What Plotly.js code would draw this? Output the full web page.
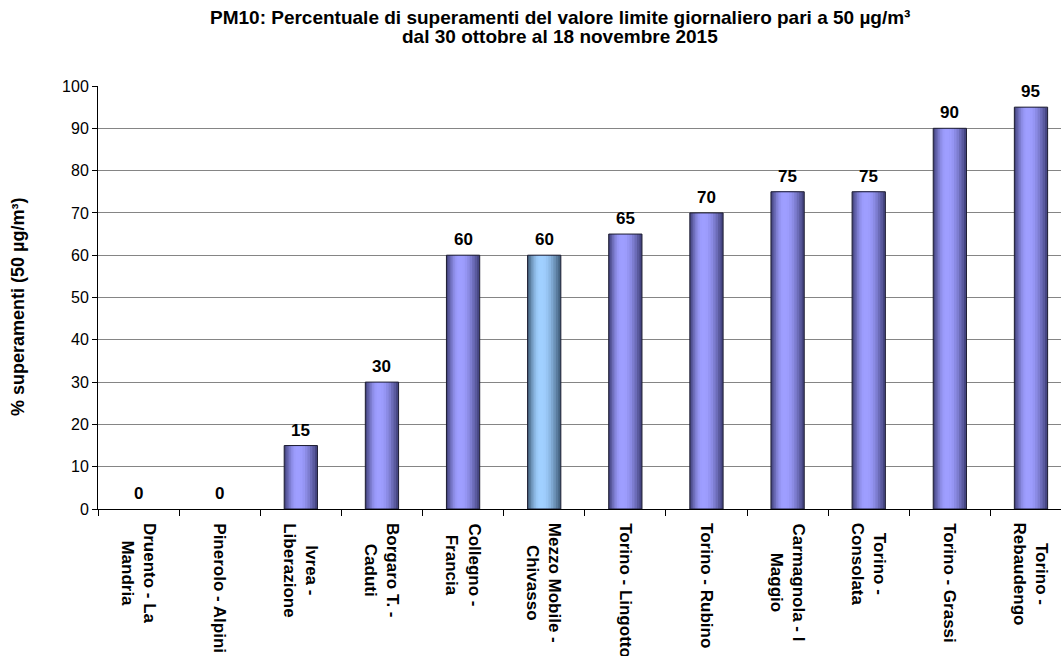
<!DOCTYPE html>
<html>
<head>
<meta charset="utf-8">
<script src="https://cdn.plot.ly/plotly-3.0.1.min.js"></script>
<style>
  html, body { margin: 0; padding: 0; background: #ffffff; overflow: hidden; }
  #chart { width: 1061px; height: 656px; }
</style>
</head>
<body>
<div id="chart"></div>
<script>
// Monitoring stations (x-axis categories); "<br>" splits a label over two lines
const stations = [
  "Druento - La<br>Mandria",
  "Pinerolo - Alpini",
  "Ivrea -<br>Liberazione",
  "Borgaro T. -<br>Caduti",
  "Collegno -<br>Francia",
  "Mezzo Mobile -<br>Chivasso",
  "Torino - Lingotto",
  "Torino - Rubino",
  "Carmagnola - I<br>Maggio",
  "Torino -<br>Consolata",
  "Torino - Grassi",
  "Torino -<br>Rebaudengo"
];

// % of days above the 50 µg/m³ daily limit
const exceedPct = [0, 0, 15, 30, 60, 60, 65, 70, 75, 75, 90, 95];

// Mobile station drawn in a different colour
const mobileStation = "Mezzo Mobile -<br>Chivasso";

const yTicks = [0, 10, 20, 30, 40, 50, 60, 70, 80, 90, 100];

const titleLines = [
  "PM10: Percentuale di superamenti del valore limite giornaliero pari a 50 µg/m³",
  "dal 30 ottobre al 18 novembre 2015"
];
const yTitle = "% superamenti (50 µg/m³)";

// ---- styling ----
const FONT = "Liberation Sans, Arial, sans-serif";
const W = 1061, H = 656;
const M = { l: 98, r: 0, t: 86, b: 147 };
const plotH = H - M.t - M.b;
const plotW = W - M.l - M.r;
// pixel position -> paper fraction
const py = p => (H - M.b - p) / plotH;
const px = p => (p - M.l) / plotW;

const BAR_HALF = 0.205;          // half width of a bar, category units
const PEAK = -0.041;             // where the cylinder highlight sits
const LAYERS = 8;

// edge -> highlight colours for the shaded bars
const shadeMain = { edge: [70, 70, 130], peak: [158, 158, 255] };
const shadeMobile = { edge: [70, 100, 130], peak: [160, 208, 255] };

function mix(a, b, t) {
  return "rgb(" + a.map((v, i) => Math.round(v + (b[i] - v) * t)).join(",") + ")";
}

const traces = [];
for (let k = 0; k < LAYERS; k++) {
  const t = k / (LAYERS - 1);
  const left = -BAR_HALF + (PEAK + BAR_HALF) * (k / LAYERS);
  const right = BAR_HALF - (BAR_HALF - PEAK) * (k / LAYERS);
  const ease = Math.sin(t * Math.PI / 2);
  traces.push({
    type: "bar",
    x: stations,
    y: exceedPct,
    offset: left,
    width: right - left,
    marker: {
      color: stations.map(s => s === mobileStation
        ? mix(shadeMobile.edge, shadeMobile.peak, ease)
        : mix(shadeMain.edge, shadeMain.peak, ease)),
      line: { width: 0 }
    },
    hoverinfo: "skip",
    showlegend: false
  });
}
// thin dark outline on top of the shading (none for empty bars)
traces.push({
  type: "bar",
  x: stations,
  y: exceedPct,
  offset: -BAR_HALF,
  width: 2 * BAR_HALF,
  marker: {
    color: "rgba(0,0,0,0)",
    line: { color: "#1c1c30", width: exceedPct.map(v => v > 0 ? 1 : 0) }
  },
  hovertemplate: "%{y}%<extra></extra>",
  showlegend: false
});

// value labels above the bars
const valueLabels = stations.map((s, i) => ({
  x: s, y: exceedPct[i], xref: "x", yref: "y",
  text: "<b>" + exceedPct[i] + "</b>",
  showarrow: false, yanchor: "bottom", yshift: 4,
  font: { family: FONT, size: 17, color: "#000" }
}));

// rotated category labels, lines centred on each other
const categoryLabels = stations.map(s => ({
  x: s, y: 0, xref: "x", yref: "y",
  text: "<b>" + s + "</b>",
  textangle: 90, showarrow: false,
  xanchor: "center", yanchor: "top", yshift: -12, align: "center",
  font: { family: FONT, size: 17, color: "#000" }
}));

// two-line chart title
const titleLabels = titleLines.map((line, i) => ({
  x: px(560), y: py(i === 0 ? 17 : 36), xref: "paper", yref: "paper",
  text: "<b>" + line + "</b>", showarrow: false,
  xanchor: "center", yanchor: "middle",
  font: { family: FONT, size: 19, color: "#000" }
}));

// y-axis title
const yTitleLabel = {
  x: px(18), y: py(307), xref: "paper", yref: "paper",
  text: "<b>" + yTitle + "</b>", textangle: -90, showarrow: false,
  xanchor: "center", yanchor: "middle",
  font: { family: FONT, size: 18, color: "#000" }
};

const layout = {
  width: W,
  height: H,
  paper_bgcolor: "#ffffff",
  plot_bgcolor: "#ffffff",
  margin: { l: M.l, r: M.r, t: M.t, b: M.b, pad: 0 },
  barmode: "overlay",
  font: { family: FONT, color: "#000" },
  xaxis: {
    type: "category",
    range: [-0.5, 11.37],
    showgrid: false,
    showticklabels: false,
    tickson: "boundaries",
    ticks: "outside",
    ticklen: 6,
    tickcolor: "#000",
    showline: true,
    linecolor: "#000",
    linewidth: 1,
    zeroline: false,
    fixedrange: true
  },
  yaxis: {
    range: [0, 100],
    tickvals: yTicks,
    ticks: "outside",
    ticklen: 5,
    tickcolor: "#000",
    tickfont: { family: FONT, size: 16, color: "#000" },
    showgrid: true,
    gridcolor: "#858585",
    gridwidth: 1,
    showline: true,
    linecolor: "#000",
    linewidth: 1,
    zeroline: false,
    fixedrange: true
  },
  annotations: titleLabels.concat([yTitleLabel], valueLabels, categoryLabels)
};

Plotly.newPlot("chart", traces, layout, { displayModeBar: false, staticPlot: true });
</script>
</body>
</html>
